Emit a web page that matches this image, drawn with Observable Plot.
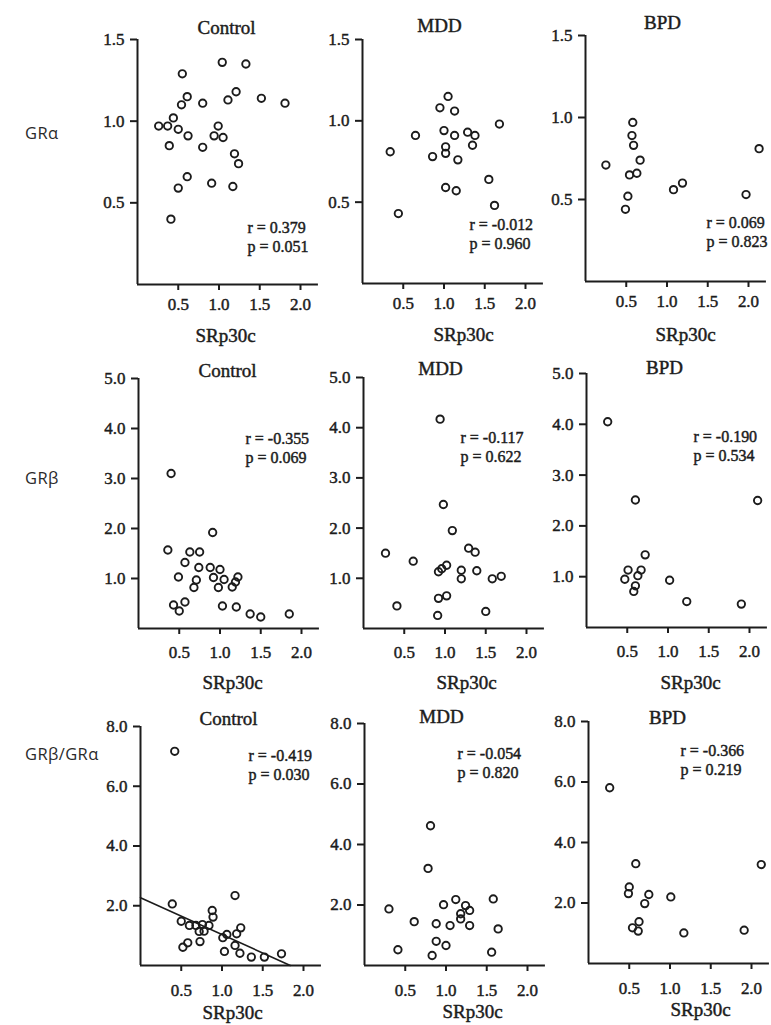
<!DOCTYPE html>
<html>
<head>
<meta charset="utf-8">
<script src="https://cdn.jsdelivr.net/npm/d3@7"></script>
<script src="https://cdn.jsdelivr.net/npm/@observablehq/plot@0.6"></script>
<style>
  html, body { margin: 0; padding: 0; background: #ffffff; overflow: hidden; }
  #page { position: relative; width: 771px; height: 1025px; background: #ffffff; overflow: hidden; }
  .panel { position: absolute; }
  .panel text { stroke: #1c1c1c; stroke-width: 0.45px; }
  .rowlabel { position: absolute; font-family: "Open Sans", sans-serif; font-size: 16.5px; color: #2a2a2a; transform: translateY(-50%); letter-spacing: 0.4px; }
</style>
</head>
<body>
<div id="page"></div>
<script>
// ---------- data ----------
const groups = ["Control", "MDD", "BPD"];
const measures = ["GRα", "GRβ", "GRβ/GRα"];
const xLabel = "SRp30c";
const xTicks = [0.5, 1.0, 1.5, 2.0];
const yTicksGRa = [0.5, 1.0, 1.5];
const yTicksGRb = [1, 2, 3, 4, 5];
const yTicksRatio = [2, 4, 6, 8];
const yMax = [1.5, 5, 8];

// [SRp30c, value]
const graControl = [[1.04,1.36],[1.33,1.35],[0.55,1.29],[0.61,1.15],[0.54,1.10],[0.80,1.11],[1.11,1.13],[1.21,1.18],[1.52,1.14],[1.81,1.11],[0.26,0.97],[0.37,0.97],[0.44,1.02],[0.50,0.95],[0.62,0.91],[0.39,0.85],[0.80,0.84],[0.99,0.97],[0.94,0.91],[1.05,0.90],[1.19,0.80],[1.24,0.74],[0.61,0.66],[0.50,0.59],[0.91,0.62],[1.17,0.60],[0.41,0.40]];
const graMDD = [[1.05,1.15],[0.95,1.08],[1.13,1.06],[0.65,0.91],[1.00,0.94],[1.13,0.91],[1.29,0.93],[1.38,0.91],[1.35,0.85],[1.02,0.84],[1.02,0.80],[0.86,0.78],[1.17,0.76],[1.68,0.98],[0.34,0.81],[1.02,0.59],[1.15,0.57],[1.55,0.64],[1.62,0.48],[0.44,0.43]];
const graBPD = [[0.58,0.97],[0.57,0.89],[0.59,0.83],[0.67,0.74],[0.25,0.71],[0.54,0.65],[0.63,0.66],[0.52,0.52],[0.49,0.44],[1.08,0.56],[1.19,0.60],[1.97,0.53],[2.13,0.81]];

const grbControl = [[0.40,3.10],[0.36,1.57],[0.91,1.92],[0.63,1.53],[0.75,1.53],[0.57,1.32],[0.74,1.22],[0.88,1.22],[1.00,1.18],[0.92,1.02],[0.49,1.03],[0.71,0.97],[1.05,0.98],[0.98,0.82],[0.68,0.82],[1.22,1.03],[1.19,0.93],[1.15,0.83],[0.43,0.47],[0.50,0.35],[0.57,0.53],[1.03,0.45],[1.20,0.43],[1.37,0.29],[1.50,0.23],[1.85,0.29]];
const grbMDD = [[0.94,4.17],[0.98,2.47],[1.09,1.95],[0.27,1.50],[0.61,1.34],[1.29,1.60],[1.37,1.52],[0.92,1.13],[0.96,1.19],[1.02,1.26],[1.20,1.16],[1.20,0.99],[1.39,1.15],[1.58,0.99],[1.69,1.04],[0.41,0.45],[0.92,0.60],[1.02,0.65],[0.91,0.26],[1.50,0.34]];
const grbBPD = [[0.26,4.05],[0.60,2.51],[2.10,2.50],[0.72,1.43],[0.51,1.13],[0.67,1.13],[0.47,0.95],[0.63,1.02],[0.60,0.82],[0.58,0.71],[1.02,0.93],[1.23,0.51],[1.90,0.46]];

const ratioControl = [[0.42,7.17],[0.39,2.06],[1.16,2.34],[0.88,1.84],[0.89,1.62],[0.50,1.48],[0.60,1.34],[0.68,1.34],[0.76,1.37],[0.84,1.34],[0.72,1.14],[0.78,1.15],[1.23,1.26],[1.18,1.06],[1.06,1.04],[1.01,0.93],[0.58,0.76],[0.52,0.61],[0.73,0.80],[1.16,0.67],[1.03,0.47],[1.22,0.41],[1.36,0.28],[1.52,0.28],[1.73,0.39]];
const ratioMDD = [[0.81,4.62],[0.78,3.21],[0.30,1.87],[0.61,1.45],[0.97,2.01],[1.12,2.18],[1.24,1.98],[1.29,1.82],[1.18,1.71],[1.18,1.54],[0.88,1.38],[1.05,1.32],[1.29,1.32],[1.58,2.20],[1.64,1.21],[0.88,0.80],[1.00,0.66],[0.41,0.52],[0.83,0.33],[1.56,0.44]];
const ratioBPD = [[0.26,5.81],[0.58,3.30],[2.12,3.27],[0.50,2.53],[0.49,2.31],[0.74,2.28],[0.69,1.98],[1.01,2.20],[0.62,1.38],[0.54,1.18],[0.61,1.07],[1.17,1.01],[1.91,1.10]];

const statR = [[0.379, -0.012, 0.069], [-0.355, -0.117, -0.190], [-0.419, -0.054, -0.366]];
const statP = [[0.051, 0.960, 0.823], [0.069, 0.622, 0.534], [0.030, 0.820, 0.219]];

// regression line shown for Control GRβ/GRα
const ratioControlFit = { intercept: 2.27, slope: -1.235 };

// ---------- layout (pixels on the page) ----------
const xUnit = 81.5, xMax = 2.22;
const axisX0 = [[137, 362, 585], [138, 363, 586], [140, 364, 588]];
const axisYTop = [[39, 39, 35], [378, 377, 373], [726, 723, 721]];
const axisYBot = [[284, 283, 281], [628, 628, 627], [965, 965, 963]];
const titlePos = [[[226, 27], [439, 25], [662, 22]], [[227, 370], [440, 368], [664, 367]], [[228, 718], [441, 716], [667, 717]]];
const statPos = [[[247, 227], [469, 224], [706, 222]], [[245, 438], [460, 437], [693, 436]], [[248, 755], [457, 753], [680, 750]]];
const labelPos = [[[225, 335], [463, 334], [685, 334]], [[232, 682], [466, 682], [690, 682]], [[232, 1012], [472, 1011], [700, 1009]]];
const xTickPad = [7, 11, 12];
const rowLabelPos = [[25, 132], [25, 477], [25, 753]];

const rowData = [[graControl, graMDD, graBPD], [grbControl, grbMDD, grbBPD], [ratioControl, ratioMDD, ratioBPD]];
const rowTicks = [yTicksGRa, yTicksGRb, yTicksRatio];

const ink = "#1c1c1c";
const page = document.getElementById("page");
const ml = 60, mt = 50, mb = 62, mr = 8;
const fmtStat = v => v.toFixed(3);

for (let r = 0; r < 3; r++) {
  for (let c = 0; c < 3; c++) {
    const x0 = axisX0[r][c], yT = axisYTop[r][c], yB = axisYBot[r][c];
    const plotH = yB - yT, plotW = xMax * xUnit;
    const W = ml + plotW + mr, H = mt + plotH + mb;
    const pts = rowData[r][c];
    const [tx, ty] = titlePos[r][c];
    const [sx, sy] = statPos[r][c];
    const [lx, ly] = labelPos[r][c];
    const marks = [
      Plot.ruleX([0], {stroke: ink, strokeWidth: 2, y1: 0, y2: yMax[r]}),
      Plot.ruleY([0], {stroke: ink, strokeWidth: 2, x1: 0, x2: xMax}),
      Plot.axisY({ticks: rowTicks[r], tickFormat: d => d.toFixed(1), tickSize: 7, tickPadding: 6, strokeWidth: 2, stroke: ink, fill: ink, label: null}),
      Plot.axisX({ticks: xTicks, tickFormat: d => d.toFixed(1), tickSize: 6, tickPadding: xTickPad[r], strokeWidth: 2, stroke: ink, fill: ink, label: null}),
      Plot.dot(pts, {x: d => d[0], y: d => d[1], r: 3.7, stroke: ink, strokeWidth: 1.9, fill: "none"}),
      Plot.text([groups[c]], {text: d => d, frameAnchor: "top-left", dx: tx - x0, dy: ty - yT, textAnchor: "middle", lineAnchor: "middle", fontSize: 19, fill: ink}),
      Plot.text(["r = " + fmtStat(statR[r][c])], {text: d => d, frameAnchor: "top-left", dx: sx - x0, dy: sy - yT, textAnchor: "start", lineAnchor: "middle", fontSize: 16, fill: ink}),
      Plot.text(["p = " + fmtStat(statP[r][c])], {text: d => d, frameAnchor: "top-left", dx: sx - x0, dy: sy - yT + 19, textAnchor: "start", lineAnchor: "middle", fontSize: 16, fill: ink}),
      Plot.text([xLabel], {text: d => d, frameAnchor: "top-left", dx: lx - x0, dy: ly - yT, textAnchor: "middle", lineAnchor: "middle", fontSize: 19, fill: ink})
    ];
    if (r === 2 && c === 0) {
      const xEnd = -ratioControlFit.intercept / ratioControlFit.slope;
      const fit = [0, xEnd].map(x => ({x, y: ratioControlFit.intercept + ratioControlFit.slope * x}));
      marks.push(Plot.line(fit, {x: "x", y: "y", stroke: ink, strokeWidth: 1.6}));
    }
    const chart = Plot.plot({
      width: W,
      height: H,
      marginLeft: ml, marginTop: mt, marginBottom: mb, marginRight: mr,
      x: {domain: [0, xMax], range: [ml, ml + plotW]},
      y: {domain: [0, yMax[r]], range: [mt + plotH, mt]},
      style: {fontFamily: "'Liberation Serif', 'Times New Roman', serif", fontSize: "17px", color: ink, background: "transparent", overflow: "visible"},
      marks
    });
    chart.classList.add("panel");
    chart.style.left = (x0 - ml) + "px";
    chart.style.top = (yT - mt) + "px";
    page.appendChild(chart);
  }
  const lab = document.createElement("div");
  lab.className = "rowlabel";
  lab.textContent = measures[r];
  lab.style.left = rowLabelPos[r][0] + "px";
  lab.style.top = rowLabelPos[r][1] + "px";
  page.appendChild(lab);
}
</script>
</body>
</html>
